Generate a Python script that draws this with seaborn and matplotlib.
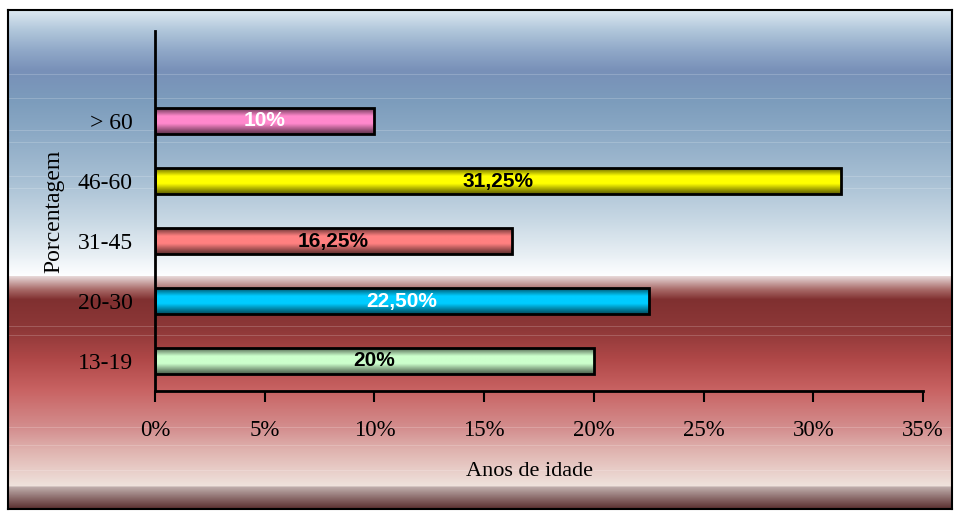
import numpy as np
import pandas as pd
import matplotlib
matplotlib.use("Agg")
import matplotlib.pyplot as plt
import matplotlib.colors as mcolors
import seaborn as sns

# ---- data ----
categories = ["> 60", "46-60", "31-45", "20-30", "13-19"]
values = [10, 31.25, 16.25, 22.5, 20]
value_labels = ["10%", "31,25%", "16,25%", "22,50%", "20%"]
bar_colors = ["#ff88cc", "#ffff00", "#ff8080", "#00ccff", "#ccffcc"]
label_colors = ["white", "black", "black", "white", "black"]
x_ticks = [0, 5, 10, 15, 20, 25, 30, 35]
x_tick_labels = ["0%", "5%", "10%", "15%", "20%", "25%", "30%", "35%"]
x_title = "Anos de idade"
y_title = "Porcentagem"

sns.set_theme(style="white")
plt.rcParams["font.family"] = ["Liberation Serif", "DejaVu Serif"]

W, H = 960, 513
fig = plt.figure(figsize=(W / 100, H / 100), dpi=100)
fig.patch.set_facecolor("white")

# ---- background gradient (pixel rows inside frame) ----
top_px, bot_px = 10, 509
stops = [
    (10, "#dce8f2"), (30, "#b0c6da"), (50, "#90a8c8"), (70, "#7890b8"),
    (100, "#7c9cbc"), (130, "#8aa8c4"), (180, "#a8c0d4"), (220, "#c8d8e4"),
    (250, "#e4ecf2"), (276, "#fdfeff"), (277, "#e6d6d6"), (290, "#a86a68"),
    (300, "#803030"), (330, "#8e3838"), (360, "#b04848"), (390, "#c86262"),
    (430, "#d49090"), (450, "#dfb2ae"), (486, "#efe2dc"), (488, "#bcaaa8"),
    (500, "#846262"), (509, "#5a3030"),
]
ys = np.array([s[0] for s in stops], float)
cols = np.array([mcolors.to_rgb(s[1]) for s in stops])
rows = np.arange(top_px, bot_px + 1)
grad = np.stack([np.interp(rows, ys, cols[:, k]) for k in range(3)], axis=1)
for ly in [74, 98, 130, 142, 176, 188, 327, 336, 428, 446, 471]:
    i = ly - top_px
    grad[i] = grad[i] * 0.82 + 0.18
img = np.repeat(grad[:, None, :], 4, axis=1)

bg = fig.add_axes([8 / W, 1 - bot_px / H, 944 / W, (bot_px - top_px) / H])
bg.imshow(img, aspect="auto", interpolation="nearest")
bg.set_xticks([])
bg.set_yticks([])
for sp in bg.spines.values():
    sp.set_visible(True)
    sp.set_color("black")
    sp.set_linewidth(1.5)
bg.set_zorder(0)

# ---- main axes ----
ax = fig.add_axes([155 / W, 1 - 391 / H, 768 / W, 360 / H])
ax.set_zorder(1)
ax.patch.set_alpha(0)

df = pd.DataFrame({"cat": categories, "val": values})
sns.barplot(data=df, x="val", y="cat", hue="cat", palette=bar_colors,
            order=categories, hue_order=categories, legend=False,
            width=0.42, orient="h", ax=ax, edgecolor="black", linewidth=2,
            saturation=1)

# cylinder-like shading for bars
prof_t = np.linspace(0, 1, 40)
shade = np.interp(prof_t, [0, 0.12, 0.3, 0.6, 0.85, 1.0], [0.4, 0.65, 1.0, 1.0, 0.6, 0.38])
for patch, c in zip(ax.patches, bar_colors):
    base = np.array(mcolors.to_rgb(c))
    arr = np.clip(shade[:, None] * base[None, :], 0, 1)[:, None, :]
    arr = np.repeat(arr, 2, axis=1)
    x0, y0 = patch.get_x(), patch.get_y()
    w, h = patch.get_width(), patch.get_height()
    im = ax.imshow(arr, extent=[x0, x0 + w, y0 + h, y0], aspect="auto",
                   origin="upper", interpolation="bilinear", zorder=2)
    im.set_clip_path(patch)
    patch.set_facecolor("none")
    patch.set_zorder(3)

for patch, lab, lc in zip(ax.patches, value_labels, label_colors):
    cx = patch.get_x() + patch.get_width() / 2
    cy = patch.get_y() + patch.get_height() / 2
    ax.text(cx, cy, lab, ha="center", va="center", color=lc, fontsize=15,
            fontweight="bold", family=["Liberation Sans", "DejaVu Sans"], zorder=4)

ax.set_xlim(0, 35)
ax.set_ylim(4.5, -1.5)
ax.set_xticks(x_ticks)
ax.set_xticklabels(x_tick_labels)
ax.tick_params(axis="x", direction="out", length=8, width=1.5, color="black",
               labelsize=16.5, pad=13, bottom=True)
ax.tick_params(axis="y", length=0, labelsize=17, pad=16)
for lbl in ax.get_yticklabels() + ax.get_xticklabels():
    lbl.set_color("black")

for s in ["top", "right"]:
    ax.spines[s].set_visible(False)
for s in ["left", "bottom"]:
    ax.spines[s].set_visible(True)
    ax.spines[s].set_color("black")
    ax.spines[s].set_linewidth(2)

ax.set_xlabel(x_title, fontsize=16, color="black")
ax.set_ylabel(y_title, fontsize=17, color="black")
ax.xaxis.label.set_verticalalignment("center")
ax.yaxis.label.set_verticalalignment("center")
ax.xaxis.set_label_coords(0.488, -0.225)
ax.yaxis.set_label_coords(-0.132, 0.5)
ax.grid(False)

fig.savefig("out.png", dpi=100, facecolor="white")
